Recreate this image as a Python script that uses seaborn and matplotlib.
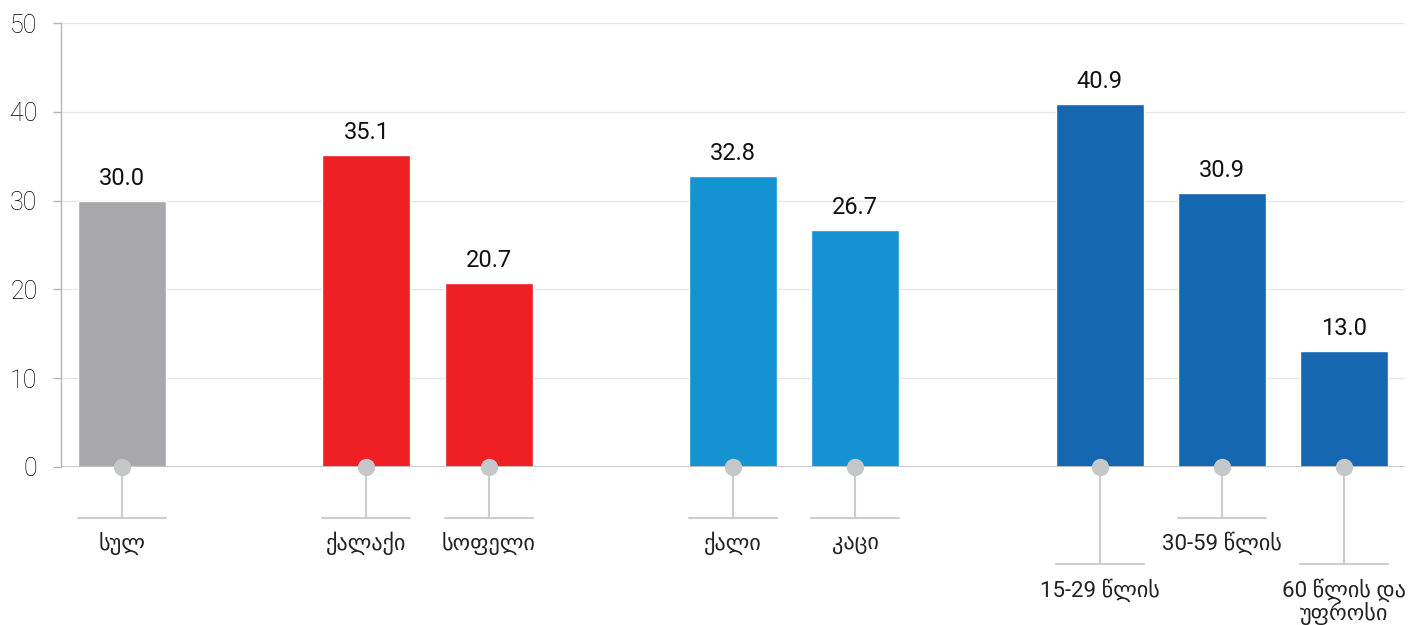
import matplotlib
matplotlib.use("Agg")
import matplotlib.pyplot as plt
import seaborn as sns
import pandas as pd

# ---- data ----
categories = ["სულ", "ქალაქი", "სოფელი", "ქალი", "კაცი",
              "15-29 წლის", "30-59 წლის", "60 წლის და\nუფროსი"]
values = [30.0, 35.1, 20.7, 32.8, 26.7, 40.9, 30.9, 13.0]
groups = ["total", "settlement", "settlement", "sex", "sex", "age", "age", "age"]
positions = [0, 2, 3, 5, 6, 8, 9, 10]
label_long = [False, False, False, False, False, True, False, True]
yticks = [0, 10, 20, 30, 40, 50]

palette = {"total": "#A8A7AB", "settlement": "#EE2024",
           "sex": "#1492D1", "age": "#1667B1"}

sns.set_theme(style="white")
plt.rcParams['font.family'] = ['Roboto', 'DejaVu Sans']

df = pd.DataFrame({"pos": positions, "value": values, "group": groups})

W, H = 1427, 625
fig = plt.figure(figsize=(W / 100, H / 100), dpi=100)
ax = fig.add_axes([61 / W, (H - 466.7) / H, 1344 / W, (466.7 - 23.3) / H])

sns.barplot(data=df, x="pos", y="value", hue="group", palette=palette,
            native_scale=True, width=0.72, dodge=False, legend=False,
            saturation=1, ax=ax, zorder=2)

ax.set_xlim(-0.5, 10.5)
ax.set_ylim(0, 50)
ax.set_yticks(yticks)
ax.set_yticklabels([str(t) for t in yticks], fontsize=18, fontweight="light",
                   color="#000000")
ax.set_xticks([])
ax.set_xlabel("")
ax.set_ylabel("")
ax.tick_params(axis="y", length=6, width=1, color="#B5B5B5", pad=11, left=True)
ax.yaxis.grid(True, color="#E4E7E9", lw=1, zorder=0)
ax.set_axisbelow(True)
for s in ["top", "right", "bottom"]:
    ax.spines[s].set_visible(False)
ax.spines["left"].set_color("#B5B5B5")
ax.spines["left"].set_linewidth(1)
ax.axhline(0, color="#C4C4C6", lw=2, zorder=3)

# value labels
for p, v in zip(positions, values):
    ax.annotate(f"{v:.1f}", (p, v), xytext=(0, 11.5), textcoords="offset points",
                ha="center", va="baseline", fontsize=17, color="#111111")

# category connectors and labels
line_step = 2.65  # vertical distance between label lines (data units)
for p, c, lng in zip(positions, categories, label_long):
    yline = -10.97 if lng else -5.785
    ybase = -14.69 if lng else -9.39
    ax.plot([p, p], [0, yline], color="#CDCDCF", lw=1.5, clip_on=False, zorder=1)
    ax.plot([p - 0.36, p + 0.36], [yline, yline], color="#CDCDCF", lw=1.5,
            clip_on=False, zorder=1)
    ax.plot([p], [0], marker="o", markersize=12.5, color="#C6C7C9",
            markeredgewidth=0, clip_on=False, zorder=5)
    for i, line in enumerate(c.split("\n")):
        ax.text(p, ybase - i * line_step, line, ha="center", va="baseline",
                fontsize=16, fontweight="normal", color="#222222")

fig.savefig("out.png", dpi=100)
